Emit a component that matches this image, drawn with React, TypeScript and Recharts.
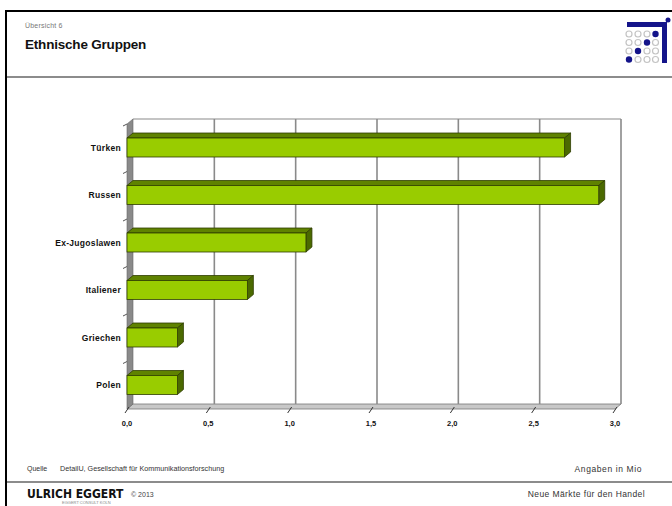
import React from "react";
import { BarChart, Bar, XAxis, YAxis, CartesianGrid } from "recharts";

// Values in millions
const GROUPS = ["Türken", "Russen", "Ex-Jugoslawen", "Italiener", "Griechen", "Polen"];
const VALUES = [2.69, 2.9, 1.1, 0.74, 0.31, 0.31];
const X_TICKS = [0, 0.5, 1, 1.5, 2, 2.5, 3];

const data = GROUPS.map((name, i) => ({ name, value: VALUES[i] }));

const W = 672;
const H = 506;
const Y_AXIS_W = 80;
const X_AXIS_H = 30;
const MARGIN = { top: 124, right: 57, bottom: 67, left: 47 };
const PLOT_LEFT = MARGIN.left + Y_AXIS_W;
const PLOT_TOP = MARGIN.top;
const PLOT_BOTTOM = H - MARGIN.bottom - X_AXIS_H;
const BAND = (PLOT_BOTTOM - PLOT_TOP) / GROUPS.length;

// 3D depth of the Excel-style chart
const DX = 6;
const DY = 5;

const BAR_FRONT = "#99cc00";
const BAR_TOP = "#5f8200";
const BAR_SIDE = "#4b6a00";
const BAR_EDGE = "#2e3d00";
const WALL = "#8a8a8a";
const FONT = "'Liberation Sans', Arial, sans-serif";

const Bar3D = (props: any) => {
  const { x, y, width, height } = props;
  if (!width || width <= 0) return null;
  return (
    <g>
      <polygon
        points={`${x},${y} ${x + DX},${y - DY} ${x + width + DX},${y - DY} ${x + width},${y}`}
        fill={BAR_TOP}
        stroke={BAR_EDGE}
        strokeWidth={0.8}
      />
      <polygon
        points={`${x + width},${y} ${x + width + DX},${y - DY} ${x + width + DX},${y + height - DY} ${x + width},${y + height}`}
        fill={BAR_SIDE}
        stroke={BAR_EDGE}
        strokeWidth={0.8}
      />
      <rect x={x} y={y} width={width} height={height} fill={BAR_FRONT} stroke={BAR_EDGE} strokeWidth={0.8} />
    </g>
  );
};

// back-wall gridlines + left wall
const VerticalLine = (p: any) => {
  const { x1, y1, x2, y2 } = p;
  if (Math.abs(x1 - PLOT_LEFT) < 1) {
    return (
      <polygon
        key={p.key}
        points={`${x1},${y1} ${x1 + DX},${y1 - DY} ${x2 + DX},${y2 - DY} ${x2},${y2}`}
        fill={WALL}
        stroke="#666"
        strokeWidth={0.6}
      />
    );
  }
  return (
    <line key={p.key} x1={x1 + DX} y1={y1 - DY} x2={x2 + DX} y2={y2 - DY} stroke={WALL} strokeWidth={1.6} />
  );
};

// floor, top edge and category ticks on the left wall
const HorizontalLine = (p: any) => {
  const { x1, x2, y1 } = p;
  const y = y1;
  const tick = <line x1={x1 - 4} y1={y + 2} x2={x1} y2={y} stroke="#555" strokeWidth={1} />;
  if (Math.abs(y - PLOT_BOTTOM) < 1) {
    return (
      <g key={p.key}>
        <polygon
          points={`${x1},${y} ${x2},${y} ${x2 + DX},${y - DY} ${x1 + DX},${y - DY}`}
          fill="#c8c8c8"
          stroke="#777"
          strokeWidth={0.8}
        />
      </g>
    );
  }
  if (Math.abs(y - PLOT_TOP) < 1) {
    return (
      <g key={p.key}>
        <line x1={x1 + DX} y1={y - DY} x2={x2 + DX} y2={y - DY} stroke={WALL} strokeWidth={1.2} />
        {tick}
      </g>
    );
  }
  return <g key={p.key}>{tick}</g>;
};

const XTick = (props: any) => {
  const { x, payload } = props;
  return (
    <g>
      <line x1={x + 2} y1={PLOT_BOTTOM - 2} x2={x - 2} y2={PLOT_BOTTOM + 4} stroke="#333" strokeWidth={1} />
      <text
        x={x}
        y={PLOT_BOTTOM + 17}
        textAnchor="middle"
        fontSize={7.5}
        fontWeight={700}
        fontFamily={FONT}
        fill="#111"
      >
        {Number(payload.value).toFixed(1).replace(".", ",")}
      </text>
    </g>
  );
};

const Logo = () => {
  const cols = [629, 638, 647, 655.5];
  const rows = [34, 42.5, 51, 59.5];
  const navy = "#14148a";
  return (
    <svg width={W} height={H} style={{ position: "absolute", left: 0, top: 0, pointerEvents: "none" }}>
      <rect x={627} y={22} width={40} height={5} fill={navy} />
      <rect x={662} y={22} width={5} height={41} fill={navy} />
      <circle cx={668} cy={20} r={2.5} fill={navy} />
      {rows.map((cy, r) =>
        cols.map((cx, c) =>
          r + c === 3 ? (
            <circle key={`${r}-${c}`} cx={cx} cy={cy} r={3.2} fill={navy} />
          ) : (
            <circle key={`${r}-${c}`} cx={cx} cy={cy} r={3} fill="none" stroke="#c4c4c4" strokeWidth={1.2} />
          )
        )
      )}
    </svg>
  );
};

const txt = (style: React.CSSProperties): React.CSSProperties => ({
  position: "absolute",
  fontFamily: FONT,
  whiteSpace: "nowrap",
  lineHeight: 1,
  ...style,
});

export default function App() {
  const boundaries = GROUPS.map((_, i) => PLOT_TOP + i * BAND).concat(PLOT_BOTTOM);
  return (
    <div
      style={{
        position: "fixed",
        left: 0,
        top: 0,
        width: W,
        height: H,
        background: "#fff",
        overflow: "hidden",
      }}
    >
      {/* frame */}
      <div style={{ position: "absolute", left: 5, top: 10, width: W - 5, height: 2, background: "#000" }} />
      <div style={{ position: "absolute", left: 5, top: 10, width: 2, height: H - 10, background: "#000" }} />
      <div style={{ position: "absolute", left: 7, top: 76, width: W - 7, height: 1.5, background: "#8c8c8c" }} />
      <div style={{ position: "absolute", left: 7, top: 481, width: W - 7, height: 2, background: "#8c8c8c" }} />

      <div style={txt({ left: 25, top: 22, fontSize: 7, color: "#777", letterSpacing: 0.2 })}>Übersicht 6</div>
      <div style={txt({ left: 25, top: 38, fontSize: 13.5, fontWeight: 700, color: "#111", letterSpacing: -0.2 })}>
        Ethnische Gruppen
      </div>
      <Logo />

      <div style={{ position: "absolute", left: 0, top: 0 }}>
        <BarChart width={W} height={H} data={data} layout="vertical" margin={MARGIN} barSize={19}>
          <CartesianGrid
            horizontal={HorizontalLine}
            vertical={VerticalLine}
            horizontalPoints={boundaries}
            stroke={WALL}
          />
          <XAxis
            type="number"
            dataKey="value"
            domain={[0, 3]}
            ticks={X_TICKS}
            axisLine={false}
            tickLine={false}
            height={X_AXIS_H}
            tick={<XTick />}
            interval={0}
          />
          <YAxis
            type="category"
            dataKey="name"
            width={Y_AXIS_W}
            axisLine={false}
            tickLine={false}
            tickMargin={0}
            interval={0}
            tick={{ fontSize: 8.5, fontWeight: 700, fill: "#111", fontFamily: FONT, letterSpacing: 0.3 }}
          />
          <Bar dataKey="value" shape={<Bar3D />} isAnimationActive={false} />
        </BarChart>
      </div>

      <div style={txt({ left: 27, top: 465, fontSize: 7, color: "#333" })}>Quelle</div>
      <div style={txt({ left: 60, top: 465, fontSize: 7.2, color: "#333" })}>
        DetailU, Gesellschaft für Kommunikationsforschung
      </div>
      <div style={txt({ right: 30, top: 465, fontSize: 8.5, color: "#333", letterSpacing: 0.6 })}>Angaben in Mio</div>

      <div
        style={txt({
          left: 27,
          top: 488,
          fontSize: 12,
          fontWeight: 700,
          color: "#111",
          fontFamily: "'DejaVu Sans Condensed', 'Liberation Sans Narrow', sans-serif",
        })}
      >
        ULRICH EGGERT
      </div>
      <div style={txt({ left: 131, top: 491, fontSize: 7, color: "#444" })}>© 2013</div>
      <div style={txt({ left: 62, top: 501, fontSize: 4, color: "#888" })}>EGGERT CONSULT KÖLN</div>
      <div style={txt({ right: 27, top: 490, fontSize: 8.5, color: "#333", letterSpacing: 0.4 })}>
        Neue Märkte für den Handel
      </div>
    </div>
  );
}
